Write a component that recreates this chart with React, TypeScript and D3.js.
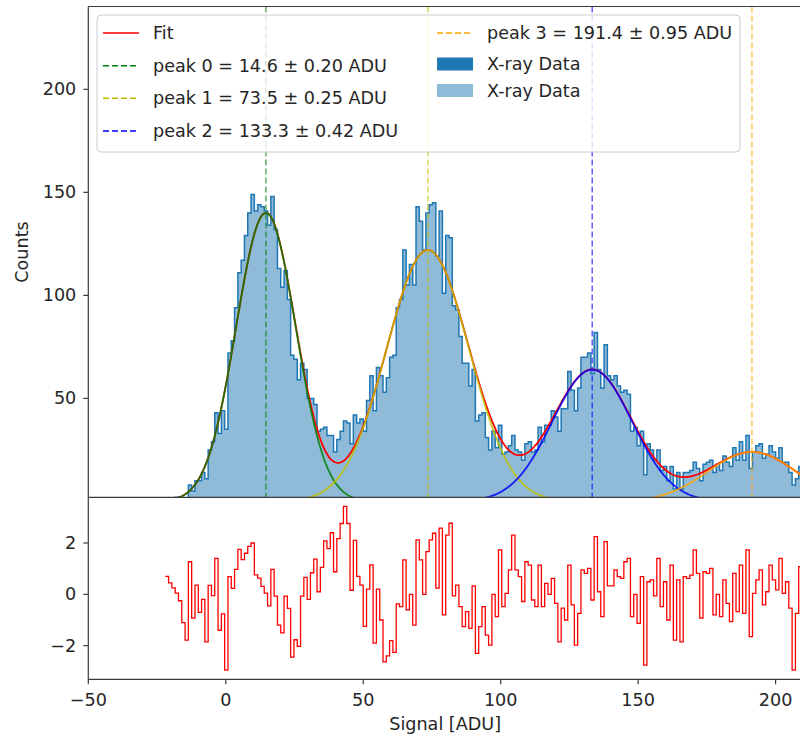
import React from 'react';
import * as d3 from 'd3';

const binStart = -22;
const binWidth = 1.2;

const counts = [
  1, 1, 1, 2, 2, 1, 1, 8, 5, 10,
  10, 14, 11, 25, 29, 43, 33, 44, 35, 72,
  78, 94, 111, 117, 129, 140, 149, 141, 144, 143,
  141, 134, 148, 132, 113, 104, 112, 98, 71, 69,
  59, 67, 64, 50, 50, 47, 34, 35, 36, 32,
  32, 24, 30, 34, 39, 38, 28, 42, 38, 40,
  34, 49, 61, 44, 65, 61, 53, 60, 70, 71,
  94, 98, 122, 105, 115, 105, 143, 136, 122, 140,
  144, 145, 119, 141, 101, 129, 128, 95, 93, 80,
  67, 67, 56, 64, 39, 42, 43, 31, 25, 34,
  26, 37, 23, 24, 27, 32, 25, 24, 20, 28,
  29, 24, 25, 36, 29, 37, 37, 44, 41, 34,
  45, 45, 63, 54, 44, 55, 70, 70, 72, 62,
  82, 64, 55, 76, 61, 59, 61, 56, 53, 54,
  52, 34, 36, 27, 34, 13, 28, 25, 20, 25,
  15, 17, 10, 17, 6, 14, 6, 14, 14, 15,
  19, 16, 10, 18, 19, 20, 14, 18, 15, 22,
  19, 17, 26, 20, 29, 20, 32, 16, 24, 27,
  28, 21, 23, 27, 24, 21, 26, 19, 19, 14,
  8, 11, 17, 19, 12, 10,
];

const residuals = [
  0.7, 0.45, 0.25, 0.05, -0.25, -1.1, -1.78, 1.27, -0.93, 0.36,
  -0.7, -0.2, -1.85, 0.35, -0.05, 1.4, -1.4, -0.76, -2.95, 0.69,
  0.23, 0.97, 1.75, 1.35, 1.6, 1.87, 2.0, 0.76, 0.63, 0.31,
  0.05, -0.45, 0.97, -0.07, -1.2, -1.5, -0.07, -0.55, -2.45, -1.77,
  -2.03, -0.07, 0.66, -0.2, 0.84, 1.37, 0.1, 1.05, 2.08, 1.78,
  2.4, 0.88, 2.17, 2.76, 3.43, 2.76, 0.16, 2.1, 0.7, 0.36,
  -1.25, 0.2, 1.15, -1.9, 0.2, -1.0, -2.63, -2.4, -1.8, -2.26,
  -0.37, -0.48, 1.34, -0.6, 0, -1.2, 2.12, 1.34, 0, 1.66,
  2.12, 2.38, 0.24, 2.58, -0.8, 2.31, 2.77, -0.06, 0.36, -0.48,
  -1.26, -0.67, -1.33, 0.33, -2.3, -1.26, -0.48, -1.59, -1.98, 0,
  -0.87, 1.73, -0.48, 0.04, 0.95, 2.31, 0.95, 0.69, -0.28, 1.27,
  1.14, -0.22, -0.48, 1.14, -0.48, 0.43, 0, 0.62, -0.35, -1.85,
  -0.54, -1.0, 1.14, -0.41, -1.98, -0.74, 0.95, 0.82, 1.01, -0.22,
  2.25, 0.1, -0.87, 2.05, 0.33, 0.33, 0.95, 0.69, 0.62, 1.27,
  1.4, -0.87, 0, -1.13, 0.69, -2.76, 0.49, 0.56, -0.06, 1.4,
  -0.48, 0.49, -1.0, 1.14, -1.78, 0.56, -1.85, 0.69, 0.62, 0.75,
  1.73, 0.82, -0.93, 0.88, 0.82, 1.01, -0.8, 0, -0.87, 0.56,
  -0.35, -1.06, 0.82, -0.67, 1.14, -0.74, 1.73, -1.65, 0.04, 0.56,
  0.95, -0.41, 0.1, 1.14, 0.56, 0.17, 1.4, 0.04, 0.49, -0.54,
  -2.95, -0.74, 1.08, 2.12,
];

const peakNames = ['peak 0', 'peak 1', 'peak 2', 'peak 3'];
const peakCenters = [14.6, 73.5, 133.3, 191.4];
const peakCenterLabels = ['14.6', '73.5', '133.3', '191.4'];
const peakErrors = ['0.20', '0.25', '0.42', '0.95'];
const peakAmplitudes = [140, 122, 64, 24];
const peakSigmas = [10.8, 15, 14.5, 16];
const peakColors = ['#008000', '#bfbf00', '#0000ff', '#ffa500'];

const xTicks = [-50, 0, 50, 100, 150, 200];
const yTicksTop = [50, 100, 150, 200];
const yTicksBottom = [-2, 0, 2];

const FONT = 'DejaVu Sans, sans-serif';
const FS = 17.6;
const TXT = '#262626';
const AX = '#3a3a3a';

const gauss = (x: number, k: number) =>
  peakAmplitudes[k] * Math.exp(-((x - peakCenters[k]) ** 2) / (2 * peakSigmas[k] ** 2));
const fitFn = (x: number) => peakCenters.reduce((s, _c, k) => s + gauss(x, k), 0);

export default function App() {
  const left = 88.3;
  const right = 802;
  const topY0 = 6.5;
  const topY1 = 497.3;
  const botY1 = 679.3;

  const x = d3.scaleLinear().domain([-50, 209.6]).range([left, right]);
  const yTop = d3.scaleLinear().domain([2, 240.2]).range([topY1, topY0]);
  const yBot = d3.scaleLinear().domain([-3.31, 3.78]).range([botY1, topY1]);

  const edges = counts.map((_, i) => binStart + i * binWidth);
  const histPts: [number, number][] = counts.map((c, i) => [edges[i], c]);
  histPts.push([binStart + counts.length * binWidth, counts[counts.length - 1]]);

  const histArea = d3
    .area<[number, number]>()
    .x((d) => x(d[0]))
    .y0(yTop(0))
    .y1((d) => yTop(d[1]))
    .curve(d3.curveStepAfter)(histPts) as string;
  const outlinePts: [number, number][] = [[binStart, 0], ...histPts, [histPts[histPts.length - 1][0], 0]];
  const histLine = d3
    .line<[number, number]>()
    .x((d) => x(d[0]))
    .y((d) => yTop(d[1]))
    .curve(d3.curveStepAfter)(outlinePts) as string;

  const xs = d3.range(-22, 218, 0.25);
  const lineGen = d3
    .line<[number, number]>()
    .x((d) => x(d[0]))
    .y((d) => yTop(d[1]));
  const fitPath = lineGen(xs.map((v) => [v, fitFn(v)])) as string;
  const compPaths = peakCenters.map((_, k) => lineGen(xs.map((v) => [v, gauss(v, k)])) as string);

  const resPts: [number, number][] = residuals.map((r, i) => [binStart + i * binWidth, r]);
  resPts.push([binStart + residuals.length * binWidth, residuals[residuals.length - 1]]);
  const resPath = d3
    .line<[number, number]>()
    .x((d) => x(d[0]))
    .y((d) => yBot(d[1]))
    .curve(d3.curveStepAfter)(resPts) as string;

  const legendRows1 = [
    { color: '#ff0000', dash: '', label: 'Fit' },
    ...peakNames.slice(0, 3).map((n, k) => ({
      color: peakColors[k],
      dash: '6,3',
      label: `${n} = ${peakCenterLabels[k]} ± ${peakErrors[k]} ADU`,
    })),
  ];
  const rowY1 = [33, 65.7, 98.3, 131];

  return (
    <svg
      width={800}
      height={738}
      style={{ position: 'absolute', left: 0, top: 0, background: '#fff' }}
      fontFamily={FONT}
    >
      <defs>
        <clipPath id="clipTop">
          <rect x={left} y={topY0} width={right - left} height={topY1 - topY0} />
        </clipPath>
        <clipPath id="clipBot">
          <rect x={left} y={topY1} width={right - left} height={botY1 - topY1} />
        </clipPath>
      </defs>
      <rect x={0} y={0} width={800} height={738} fill="#fff" />

      {/* top panel */}
      <g clipPath="url(#clipTop)">
        <path d={histArea} fill="#1f77b4" fillOpacity={0.5} stroke="none" />
        <path d={histLine} fill="none" stroke="#1f77b4" strokeWidth={1.5} />
        <path d={fitPath} fill="none" stroke="#ff0000" strokeWidth={1.8} />
        {compPaths.map((p, k) => (
          <path key={k} d={p} fill="none" stroke={peakColors[k]} strokeWidth={1.8} strokeOpacity={0.85} />
        ))}
        {peakCenters.map((c, k) => (
          <line
            key={k}
            x1={x(c)}
            x2={x(c)}
            y1={topY0}
            y2={topY1}
            stroke={peakColors[k]}
            strokeOpacity={0.6}
            strokeWidth={1.6}
            strokeDasharray="6,3"
          />
        ))}
      </g>

      {/* legend */}
      <g>
        <rect x={97} y={15} width={643} height={137} rx={4} fill="#fff" fillOpacity={0.8} stroke="#cccccc" strokeWidth={1} />
        {legendRows1.map((r, i) => (
          <g key={i}>
            <line x1={103} x2={139} y1={rowY1[i]} y2={rowY1[i]} stroke={r.color} strokeWidth={1.6} strokeDasharray={r.dash || undefined} />
            <text x={153} y={rowY1[i] + 6} fontSize={FS} fill={TXT}>
              {r.label}
            </text>
          </g>
        ))}
        <line x1={437} x2={473} y1={33} y2={33} stroke={peakColors[3]} strokeWidth={1.6} strokeDasharray="6,3" />
        <text x={487} y={39} fontSize={FS} fill={TXT}>
          {`${peakNames[3]} = ${peakCenterLabels[3]} ± ${peakErrors[3]} ADU`}
        </text>
        <rect x={437} y={57.5} width={36} height={13} fill="#1f77b4" />
        <text x={487} y={70} fontSize={FS} fill={TXT}>X-ray Data</text>
        <rect x={437} y={84} width={36} height={13} fill="#1f77b4" fillOpacity={0.5} />
        <text x={487} y={96.7} fontSize={FS} fill={TXT}>X-ray Data</text>
      </g>

      {/* top spines and ticks */}
      <line x1={left} x2={left} y1={topY0} y2={topY1} stroke={AX} strokeWidth={1.2} />
      <line x1={left} x2={right} y1={topY0} y2={topY0} stroke={AX} strokeWidth={1.2} />
      <line x1={left} x2={right} y1={topY1} y2={topY1} stroke={AX} strokeWidth={1.2} />
      {yTicksTop.map((t) => (
        <g key={t}>
          <line x1={left - 5} x2={left} y1={yTop(t)} y2={yTop(t)} stroke={AX} strokeWidth={1.2} />
          <text x={left - 12} y={yTop(t) + 6} fontSize={FS} textAnchor="end" fill={TXT}>
            {t}
          </text>
        </g>
      ))}
      <text
        transform={`translate(${28},${252}) rotate(-90)`}
        fontSize={FS}
        textAnchor="middle"
        fill={TXT}
      >
        Counts
      </text>

      {/* bottom panel */}
      <g clipPath="url(#clipBot)">
        <path d={resPath} fill="none" stroke="#ff0000" strokeWidth={1.3} />
      </g>
      <line x1={left} x2={left} y1={topY1} y2={botY1} stroke={AX} strokeWidth={1.2} />
      <line x1={left} x2={right} y1={botY1} y2={botY1} stroke={AX} strokeWidth={1.2} />
      {yTicksBottom.map((t) => (
        <g key={t}>
          <line x1={left - 5} x2={left} y1={yBot(t)} y2={yBot(t)} stroke={AX} strokeWidth={1.2} />
          <text x={left - 12} y={yBot(t) + 6} fontSize={FS} textAnchor="end" fill={TXT}>
            {t < 0 ? `\u2212${Math.abs(t)}` : t}
          </text>
        </g>
      ))}
      {xTicks.map((t) => (
        <g key={t}>
          <line x1={x(t)} x2={x(t)} y1={botY1} y2={botY1 + 5} stroke={AX} strokeWidth={1.2} />
          <text x={x(t)} y={706} fontSize={FS} textAnchor="middle" fill={TXT}>
            {t < 0 ? `\u2212${Math.abs(t)}` : t}
          </text>
        </g>
      ))}
      <text x={(left + right) / 2} y={730} fontSize={FS} textAnchor="middle" fill={TXT}>
        Signal [ADU]
      </text>
    </svg>
  );
}
